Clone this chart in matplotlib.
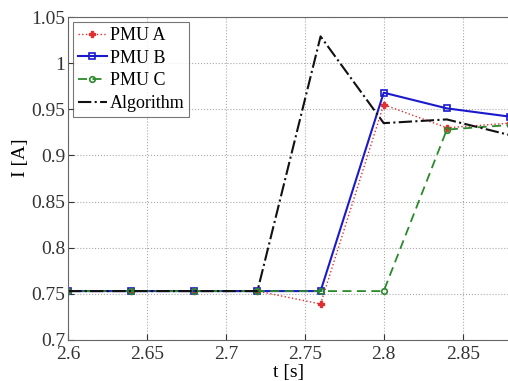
import matplotlib
matplotlib.use("Agg")
import matplotlib.pyplot as plt

t = [2.60, 2.64, 2.68, 2.72, 2.76, 2.80, 2.84, 2.88]
pmu_a = [0.753, 0.753, 0.753, 0.753, 0.739, 0.955, 0.930, 0.935]
pmu_b = [0.753, 0.753, 0.753, 0.753, 0.753, 0.968, 0.951, 0.942]
pmu_c = [0.753, 0.753, 0.753, 0.753, 0.753, 0.753, 0.928, 0.933]
algo = [0.753, 0.753, 0.753, 0.753, 1.029, 0.935, 0.939, 0.922]
xticks = [2.6, 2.65, 2.7, 2.75, 2.8, 2.85]
yticks = [0.7, 0.75, 0.8, 0.85, 0.9, 0.95, 1.0, 1.05]
yticklabels = ["0.7", "0.75", "0.8", "0.85", "0.9", "0.95", "1", "1.05"]

plt.rcParams['font.family'] = ['Liberation Serif', 'DejaVu Serif']
fig = plt.figure(figsize=(5.08, 3.81), dpi=100)
W, H = 508, 381
ax = fig.add_axes([68 / W, 1 - 340 / H, 442 / W, (340 - 17) / H])

ax.plot(t, pmu_a, color='#e03030', linestyle=':', lw=1.0, marker='P', markersize=4,
        label='PMU A')
ax.plot(t, pmu_b, color='#1a1acc', linestyle='-', lw=1.5, marker='s', markersize=5,
        markerfacecolor='none', markeredgewidth=1.2, label='PMU B')
ax.plot(t, pmu_c, color='#2a8a2a', linestyle=(0, (5, 3)), lw=1.3, marker='o', markersize=4,
        markerfacecolor='none', markeredgewidth=1.2, label='PMU C')
ax.plot(t, algo, color='#111111', linestyle='-.', lw=1.5, label='Algorithm')

ax.set_xlim(2.6, 2.88)
ax.set_ylim(0.7, 1.05)
ax.set_xticks(xticks)
ax.set_xticklabels([f"{v:g}" for v in xticks])
ax.set_yticks(yticks)
ax.set_yticklabels(yticklabels)
ax.tick_params(direction='in', labelsize=14, length=4, colors='#333333')
ax.tick_params(axis='x', pad=4)
ax.tick_params(axis='y', pad=2)
ax.grid(True, linestyle=':', color='#aaaaaa', lw=0.8)
for s in ax.spines.values():
    s.set_color('#666666')
ax.set_xlabel('t [s]', fontsize=14)
ax.set_ylabel('I [A]', fontsize=14)
ax.xaxis.set_label_coords(0.5, (340 - 364) / 323)
ax.yaxis.set_label_coords((29 - 68) / 442, (340 - 158) / 323)

leg = ax.legend(loc='upper left', fontsize=13, frameon=True, fancybox=False,
                edgecolor='#555555', borderpad=0.25, labelspacing=0.32,
                handlelength=1.6, handletextpad=0.15, borderaxespad=0.3)
leg.get_frame().set_linewidth(0.8)

fig.savefig('out.png', dpi=100)
